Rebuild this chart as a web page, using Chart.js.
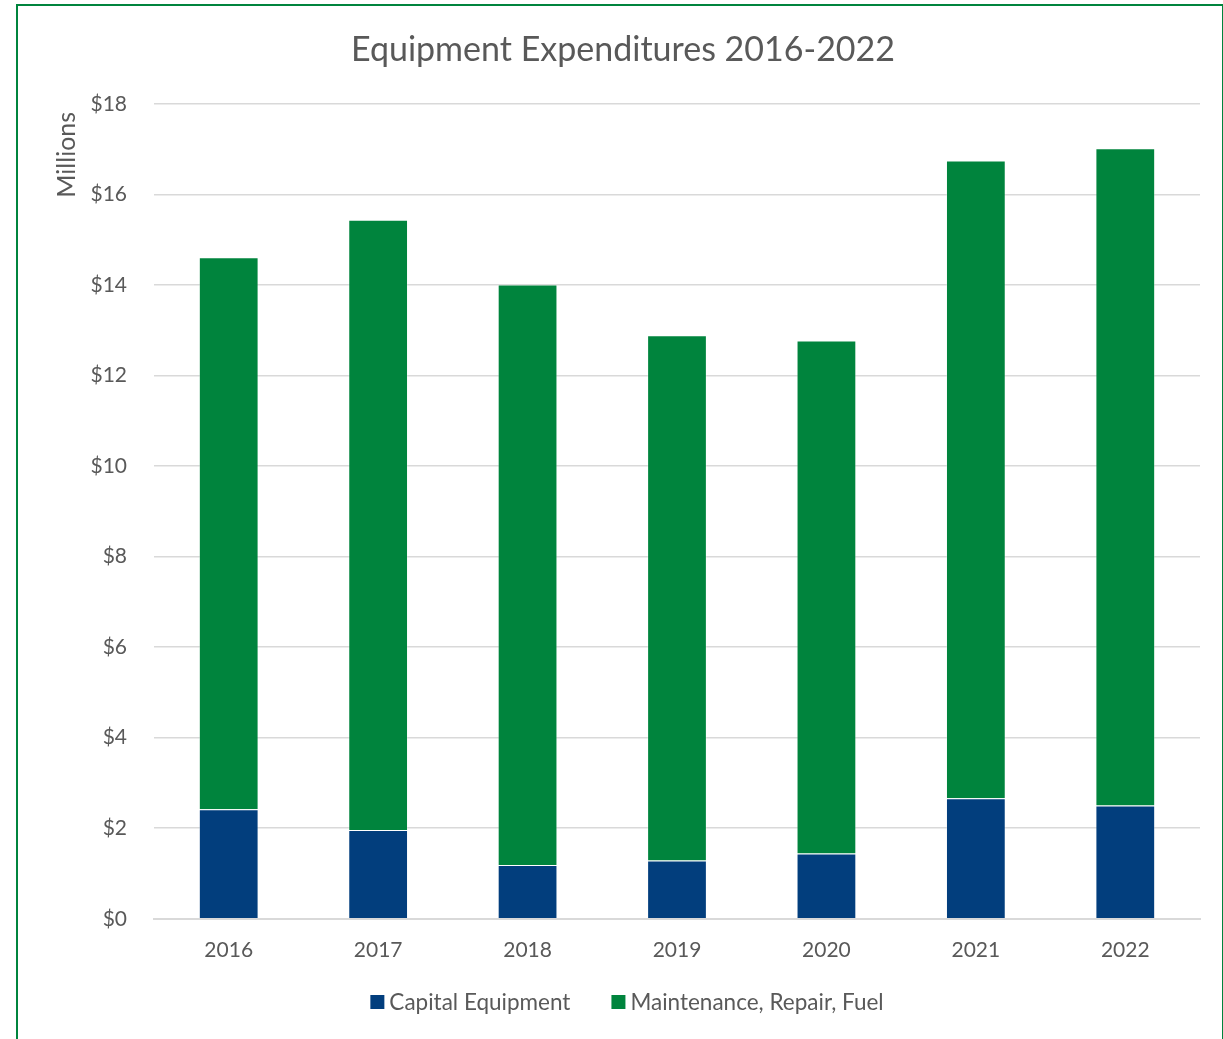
<!DOCTYPE html>
<html>
<head>
<meta charset="utf-8">
<script src="https://cdn.jsdelivr.net/npm/chart.js@4/dist/chart.umd.min.js"></script>
<style>
  html, body { margin: 0; padding: 0; background: #fff; }
  #wrap { position: relative; width: 1223px; height: 1039px; }
  #frame { position: absolute; left: 16px; top: 4px; width: 1204px; height: 1040px;
           border: 2px solid #00843d; pointer-events: none; }
</style>
</head>
<body>
<div id="wrap">
  <canvas id="myChart" width="1223" height="1039"></canvas>
  <div id="frame"></div>
</div>
<script>
const years = ['2016', '2017', '2018', '2019', '2020', '2021', '2022'];
// values in millions of dollars
const capitalEquipment = [2.42, 1.96, 1.19, 1.29, 1.44, 2.66, 2.50];
const maintenanceRepairFuel = [12.19, 13.48, 12.82, 11.60, 11.33, 14.09, 14.52];
const yTicks = [0, 2, 4, 6, 8, 10, 12, 14, 16, 18];

const textColor = '#595959';
const fontFamily = 'Lato, "Open Sans", sans-serif';

// "Millions" sits up near the top of the value axis, like in the Excel original
const unitLabel = {
    id: 'unitLabel',
    afterDraw(chart) {
        const c = chart.ctx;
        const y = chart.scales.y;
        c.save();
        c.translate(67, y.top + 51);
        c.rotate(-Math.PI / 2);
        c.font = '25px ' + fontFamily;
        c.fillStyle = textColor;
        c.textAlign = 'center';
        c.textBaseline = 'middle';
        c.fillText('Millions', 0, 0);
        c.restore();
    }
};

// Excel-style legend: small gap box->text, wide gap between entries
const excelLegend = {
    id: 'excelLegend',
    afterDraw(chart) {
        const c = chart.ctx;
        const sets = chart.data.datasets;
        const box = 14, textGap = 5, itemGap = 41;
        const y = chart.scales.x.bottom + 20;
        c.save();
        c.font = '22.5px ' + fontFamily;
        c.textBaseline = 'middle';
        let total = 0;
        sets.forEach((d, i) => {
            total += box + textGap + c.measureText(d.label).width + (i < sets.length - 1 ? itemGap : 0);
        });
        let x = 627 - total / 2;
        sets.forEach(d => {
            c.fillStyle = d.backgroundColor;
            c.fillRect(x, y - box / 2, box, box);
            x += box + textGap;
            c.fillStyle = textColor;
            c.fillText(d.label, x, y + 1);
            x += c.measureText(d.label).width + itemGap;
        });
        c.restore();
    }
};

const ctx = document.getElementById('myChart').getContext('2d');
const chart = new Chart(ctx, {
    type: 'bar',
    data: {
        labels: years,
        datasets: [{
            label: 'Capital Equipment',
            backgroundColor: '#023e7d',
            borderColor: 'rgba(255,255,255,0.3)',
            borderWidth: 1,
            data: capitalEquipment
        }, {
            label: 'Maintenance, Repair, Fuel',
            backgroundColor: '#00843d',
            borderColor: 'rgba(255,255,255,0.3)',
            borderWidth: 1,
            data: maintenanceRepairFuel
        }]
    },
    options: {
        responsive: false,
        animation: false,
        layout: { padding: { left: 46, right: 23, top: 0, bottom: 57 } },
        datasets: { bar: { categoryPercentage: 1, barPercentage: 0.4 } },
        plugins: {
            title: {
                display: true,
                text: 'Equipment Expenditures 2016-2022',
                color: textColor,
                font: { family: fontFamily, size: 34, weight: 'normal' },
                padding: { top: 30, bottom: 33 }
            },
            legend: { display: false },
            tooltip: { enabled: false }
        },
        scales: {
            x: {
                stacked: true,
                grid: { display: false, drawTicks: false },
                border: { color: '#d9d9d9', width: 2 },
                ticks: { color: textColor, font: { family: fontFamily, size: 21 }, padding: 19 }
            },
            y: {
                stacked: true,
                min: 0,
                max: 18,
                afterFit: s => { s.width = 108; },
                afterBuildTicks: s => { s.ticks = yTicks.map(v => ({ value: v })); },
                grid: { color: '#d9d9d9', lineWidth: 1.5, drawTicks: false },
                border: { display: false },
                ticks: {
                    color: textColor,
                    font: { family: fontFamily, size: 21 },
                    padding: 27,
                    callback: v => '$' + v
                }
            }
        }
    },
    plugins: [unitLabel, excelLegend]
});
</script>
</body>
</html>
